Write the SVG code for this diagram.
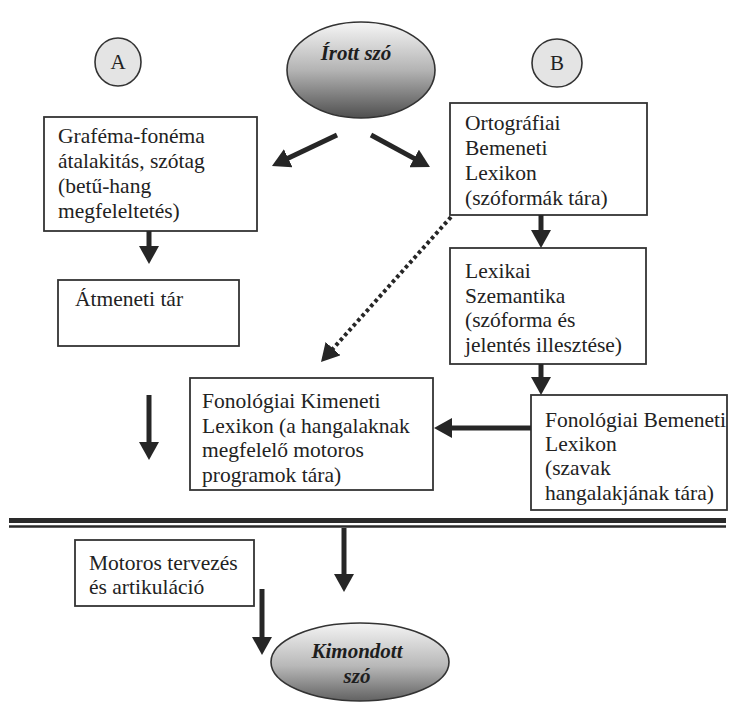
<svg xmlns="http://www.w3.org/2000/svg" width="734" height="702" viewBox="0 0 734 702">
  <style>
    .box { fill: #ffffff; stroke: #333333; stroke-width: 1.8; }
    .txt { font-family: "Liberation Serif", "Times New Roman", "DejaVu Serif", serif; font-size: 21.5px; fill: #222222; }
    .lbl { font-family: "Liberation Serif", "Times New Roman", "DejaVu Serif", serif; font-size: 21px; fill: #222222; text-anchor: middle; }
    .oval-txt { font-family: "Liberation Serif", "Times New Roman", "DejaVu Serif", serif; font-size: 21px; font-weight: bold; font-style: italic; fill: #1e1e1e; text-anchor: middle; }
    .tag { fill: #e4e4e4; stroke: #333333; stroke-width: 1.6; }
    .oval { stroke: #333333; stroke-width: 1.6; }
    .arrow { fill: none; stroke: #262626; stroke-width: 5; marker-end: url(#head); }
    .dotted { fill: none; stroke: #262626; stroke-width: 4; stroke-dasharray: 3.5 3; marker-end: url(#head); }
    .rule { stroke: #2a2a2a; }
  </style>
  <defs>
    <marker id="head" viewBox="0 0 18 20" markerUnits="userSpaceOnUse" markerWidth="18" markerHeight="20" refX="2" refY="10" orient="auto">
      <path d="M0,0 L18,10 L0,20 z" fill="#262626"/>
    </marker>
    <linearGradient id="shade" x1="0" y1="0" x2="0" y2="1">
      <stop offset="0" stop-color="#f6f6f6"/>
      <stop offset="0.5" stop-color="#b4b4b4"/>
      <stop offset="1" stop-color="#4f4f4f"/>
    </linearGradient>
    <linearGradient id="shade2" x1="0" y1="0" x2="0" y2="1">
      <stop offset="0" stop-color="#f4f4f4"/>
      <stop offset="0.55" stop-color="#b8b8b8"/>
      <stop offset="1" stop-color="#626262"/>
    </linearGradient>
  </defs>

  <!-- route markers -->
  <g id="tag-a">
    <ellipse class="tag" cx="118" cy="62" rx="23" ry="24"/>
    <text class="lbl" x="118" y="69">A</text>
  </g>
  <g id="tag-b">
    <ellipse class="tag" cx="557" cy="63" rx="25" ry="24"/>
    <text class="lbl" x="557" y="70">B</text>
  </g>

  <!-- input -->
  <g id="irott-szo">
    <ellipse class="oval" cx="361" cy="70" rx="74" ry="48" fill="url(#shade)"/>
    <text class="oval-txt" x="356" y="60">Írott szó</text>
  </g>

  <g id="grafema">
    <rect class="box" x="44" y="117" width="213" height="114"/>
    <text class="txt" x="58" y="143">Graféma-fonéma</text>
    <text class="txt" x="58" y="168">átalakitás, szótag</text>
    <text class="txt" x="58" y="193">(betű-hang</text>
    <text class="txt" x="58" y="218">megfeleltetés)</text>
  </g>

  <g id="ortografiai">
    <rect class="box" x="450" y="103" width="197" height="112"/>
    <text class="txt" x="465" y="130">Ortográfiai</text>
    <text class="txt" x="465" y="155">Bemeneti</text>
    <text class="txt" x="465" y="180">Lexikon</text>
    <text class="txt" x="465" y="205">(szóformák tára)</text>
  </g>

  <g id="atmeneti">
    <rect class="box" x="58" y="280" width="181" height="66"/>
    <text class="txt" x="75" y="306">Átmeneti tár</text>
  </g>

  <g id="szemantika">
    <rect class="box" x="450" y="248" width="196" height="116"/>
    <text class="txt" x="465" y="278">Lexikai</text>
    <text class="txt" x="465" y="303">Szemantika</text>
    <text class="txt" x="465" y="327">(szóforma és</text>
    <text class="txt" x="465" y="352">jelentés illesztése)</text>
  </g>

  <g id="fon-kimeneti">
    <rect class="box" x="190" y="378" width="243" height="112"/>
    <text class="txt" x="202" y="408">Fonológiai Kimeneti</text>
    <text class="txt" x="202" y="433">Lexikon (a hangalaknak</text>
    <text class="txt" x="202" y="457">megfelelő motoros</text>
    <text class="txt" x="202" y="482">programok tára)</text>
  </g>

  <g id="fon-bemeneti">
    <rect class="box" x="531" y="395" width="196" height="115"/>
    <text class="txt" x="545" y="427">Fonológiai Bemeneti</text>
    <text class="txt" x="545" y="451">Lexikon</text>
    <text class="txt" x="545" y="475">(szavak</text>
    <text class="txt" x="545" y="500">hangalakjának tára)</text>
  </g>

  <!-- double rule across the page -->
  <g id="divider">
    <line class="rule" x1="9" y1="520.5" x2="726" y2="520.5" stroke-width="5"/>
    <line class="rule" x1="9" y1="526.5" x2="726" y2="526.5" stroke-width="2.5"/>
  </g>

  <g id="motoros">
    <rect class="box" x="75" y="540" width="179" height="66"/>
    <text class="txt" x="89" y="570">Motoros tervezés</text>
    <text class="txt" x="89" y="594">és artikuláció</text>
  </g>

  <g id="kimondott-szo">
    <ellipse class="oval" cx="360" cy="662" rx="89" ry="39" fill="url(#shade2)"/>
    <text class="oval-txt" x="357" y="658">Kimondott</text>
    <text class="oval-txt" x="357" y="683" fill="#3a3a3a">szó</text>
  </g>

  <!-- connectors -->
  <g id="connectors">
    <line class="arrow" x1="337" y1="135" x2="286.4" y2="159.1"/>
    <line class="arrow" x1="371" y1="135" x2="415.9" y2="159.4"/>
    <line class="arrow" x1="149" y1="231" x2="149" y2="248"/>
    <line class="arrow" x1="541" y1="215" x2="541" y2="232"/>
    <line class="arrow" x1="541" y1="364" x2="541" y2="379"/>
    <line class="arrow" x1="531" y1="428" x2="450" y2="428"/>
    <line class="arrow" x1="149" y1="395" x2="149" y2="444"/>
    <line class="arrow" x1="344" y1="528" x2="344" y2="576"/>
    <line class="arrow" x1="262" y1="589" x2="262" y2="639"/>
    <line class="dotted" x1="451" y1="217" x2="331.7" y2="350.1"/>
  </g>
</svg>
